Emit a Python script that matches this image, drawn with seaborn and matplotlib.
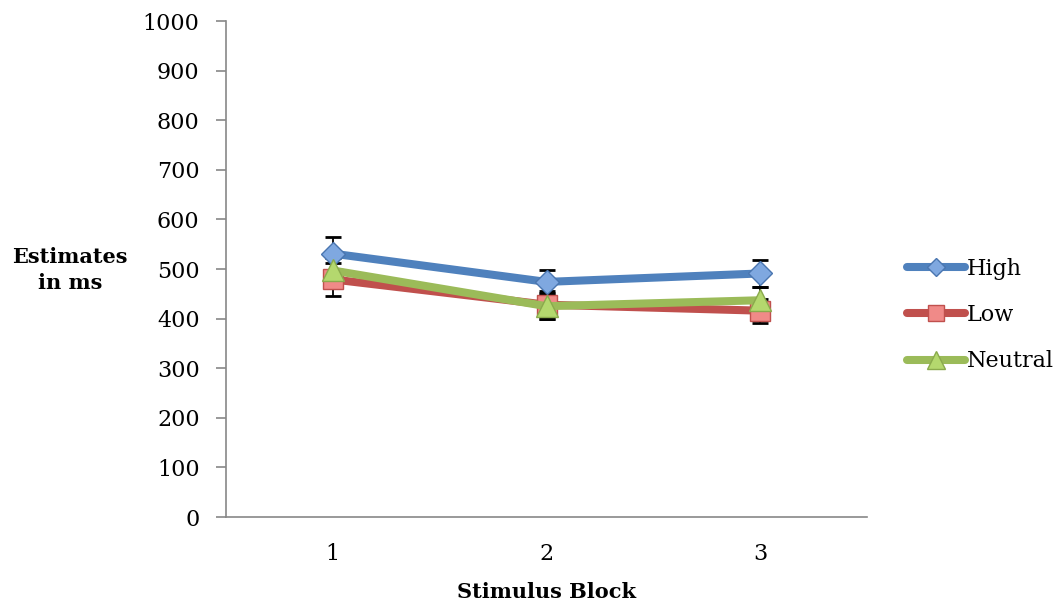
import pandas as pd
import matplotlib.pyplot as plt
import seaborn as sns

# data
blocks = [1, 2, 3]
high = [531, 474, 491]
low = [479, 428, 416]
neutral = [497, 425, 437]
high_err = [33, 24, 28]
low_err = [33, 28, 24]
neutral_err = [26, 26, 26]
y_ticks = list(range(0, 1001, 100))

sns.set_style("white")
plt.rcParams['font.family'] = ['DejaVu Serif']
plt.rcParams['text.color'] = 'black'
plt.rcParams['axes.labelcolor'] = 'black'
plt.rcParams['xtick.labelcolor'] = 'black'
plt.rcParams['ytick.labelcolor'] = 'black'

fig = plt.figure(figsize=(10.55, 6.03), dpi=100)
ax = fig.add_axes([226 / 1055, 1 - 517 / 603, (867 - 226) / 1055, (517 - 21) / 603])

series = [
    ("High", high, high_err, "#4F81BD", "D", "#7FA8E0", "#4A76B0", 12),
    ("Low", low, low_err, "#C0504D", "s", "#F08A88", "#C0504D", 15),
    ("Neutral", neutral, neutral_err, "#9BBB59", "^", "#B4D86E", "#8AAA4C", 16),
]

for name, vals, err, col, mk, face, edge, ms in series:
    df = pd.DataFrame({"Stimulus Block": blocks, "Estimate": vals})
    ax.errorbar(blocks, vals, yerr=err, fmt="none", ecolor="black",
                elinewidth=1.3, capsize=6, capthick=2, zorder=1)
    sns.lineplot(data=df, x="Stimulus Block", y="Estimate", ax=ax, color=col,
                 lw=5.8, marker=mk, markersize=ms, markerfacecolor=face,
                 markeredgecolor=edge, markeredgewidth=1, label=name,
                 solid_capstyle="round", zorder=3)

ax.set_xlim(0.5, 3.5)
ax.set_ylim(0, 1000)
ax.set_yticks(y_ticks)
ax.set_xticks(blocks)
ax.set_xticks([0.5, 1.5, 2.5, 3.5], minor=True)
ax.tick_params(axis="x", which="major", length=0, labelsize=16, pad=19)
ax.tick_params(axis="x", which="minor", length=7, width=1.2, color="#888888", direction="out")
ax.tick_params(axis="y", length=7, width=1.2, color="#888888", direction="out",
               labelsize=16, pad=12, left=True)
for side in ["top", "right"]:
    ax.spines[side].set_visible(False)
for side in ["left", "bottom"]:
    ax.spines[side].set_color("#888888")
    ax.spines[side].set_linewidth(1.2)

ax.set_xlabel("Stimulus Block", fontsize=15, fontweight="bold", labelpad=12)
ax.set_ylabel("")
fig.text(70 / 1055, 1 - 270 / 603, "Estimates\nin ms", fontsize=15, fontweight="bold",
         ha="center", va="center", linespacing=1.35)

leg = ax.legend(loc="center left", bbox_to_anchor=(898 / 1055, 1 - 315 / 603),
                bbox_transform=fig.transFigure, frameon=False, fontsize=16,
                handlelength=2.6, handletextpad=0.1, labelspacing=1.1,
                borderaxespad=0)
for h in leg.legend_handles:
    h.set_markersize(h.get_markersize() * 0.8)

fig.savefig("out.png", dpi=100)
